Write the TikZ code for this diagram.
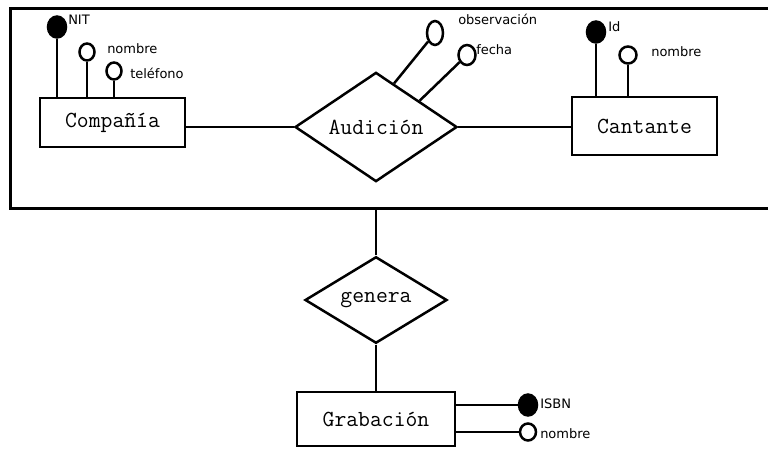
\documentclass[tikz,border=0pt]{standalone}
\usepackage{fontspec}
\setmainfont{DejaVu Sans}
\usetikzlibrary{shapes.geometric, calc}

\begin{document}
\begin{tikzpicture}[x=1pt, y=-1pt, line width=2.5pt,
  entidad/.style={draw, rectangle, inner sep=0pt, minimum width=145pt, minimum height=49pt, font=\ttfamily\fontsize{23}{26}\selectfont},
  relacion/.style={draw, diamond, inner sep=0pt, font=\ttfamily\fontsize{23}{26}\selectfont},
  atrib/.style={draw, ellipse, inner sep=0pt, minimum width=15pt, minimum height=17pt},
  clave/.style={atrib, fill=black, minimum width=18pt, minimum height=21pt},
  nom/.style={anchor=west, inner sep=0pt, font=\fontsize{13}{15}\selectfont}]
\useasboundingbox (0,0) rectangle (768,450);
\clip (0,0) rectangle (768,450);
% aggregation box
\node[draw, line width=3pt, minimum width=765pt, minimum height=200pt] (agreg) at (392.5,108) {};
% entities and relationships
\node[entidad] (comp) at (112.5,122.5) {Compañía};
\node[entidad, minimum height=58pt] (cant) at (644.5,126) {Cantante};
\node[entidad, minimum width=158pt, minimum height=54pt] (grab) at (376,419) {Grabación};
\node[relacion, minimum width=162pt, minimum height=100pt] (aud) at (376,127) {Audición};
\node[relacion, minimum width=142pt, minimum height=84pt] (gen) at (376,300) {genera};
\draw (aud.west) -- (aud.west -| comp.east);
\draw (aud.east) -- (aud.east -| cant.west);
\draw (gen.north) -- (gen.north |- agreg.south);
\draw (gen.south) -- (gen.south |- grab.north);
% attributes of Compañía
\node[clave] (nit) at (57,27) {};
\node[atrib] (cnom) at (87,52) {};
\node[atrib] (ctel) at (114,71) {};
\node[nom] (lnit) at (67,20) {NIT};
\node[nom] (lcnom) at (106,49) {nombre};
\node[nom] (lctel) at (129,73) {teléfono};
\foreach \a in {nit, cnom, ctel} {\draw (\a) -- (\a |- comp.north);}
% attributes of Audición
\node[atrib, minimum width=16pt, minimum height=24pt] (obs) at (435,33) {};
\node[atrib, minimum width=17pt, minimum height=20pt] (fecha) at (467,55) {};
\node[nom] (lobs) at (457,19) {observación};
\node[nom] (lfecha) at (475,50) {fecha};
\draw (obs) -- ($(aud.north)!0.22!(aud.east)$);
\draw (fecha) -- ($(aud.north)!0.53!(aud.east)$);
% attributes of Cantante
\node[clave] (id) at (596,32) {};
\node[atrib, minimum width=17pt, minimum height=17pt] (knom) at (628,55) {};
\node[nom] (lid) at (607,27) {Id};
\node[nom] (lknom) at (650,52) {nombre};
\foreach \a in {id, knom} {\draw (\a) -- (\a |- cant.north);}
% attributes of Grabación
\node[clave] (isbn) at (528,405) {};
\node[atrib, minimum width=16pt, minimum height=17pt] (gnom) at (528,432) {};
\node[nom] (lisbn) at (539,404) {ISBN};
\node[nom] (lgnom) at (539,434) {nombre};
\foreach \a in {isbn, gnom} {\draw (\a) -- (\a -| grab.east);}
\end{tikzpicture}
\end{document}
